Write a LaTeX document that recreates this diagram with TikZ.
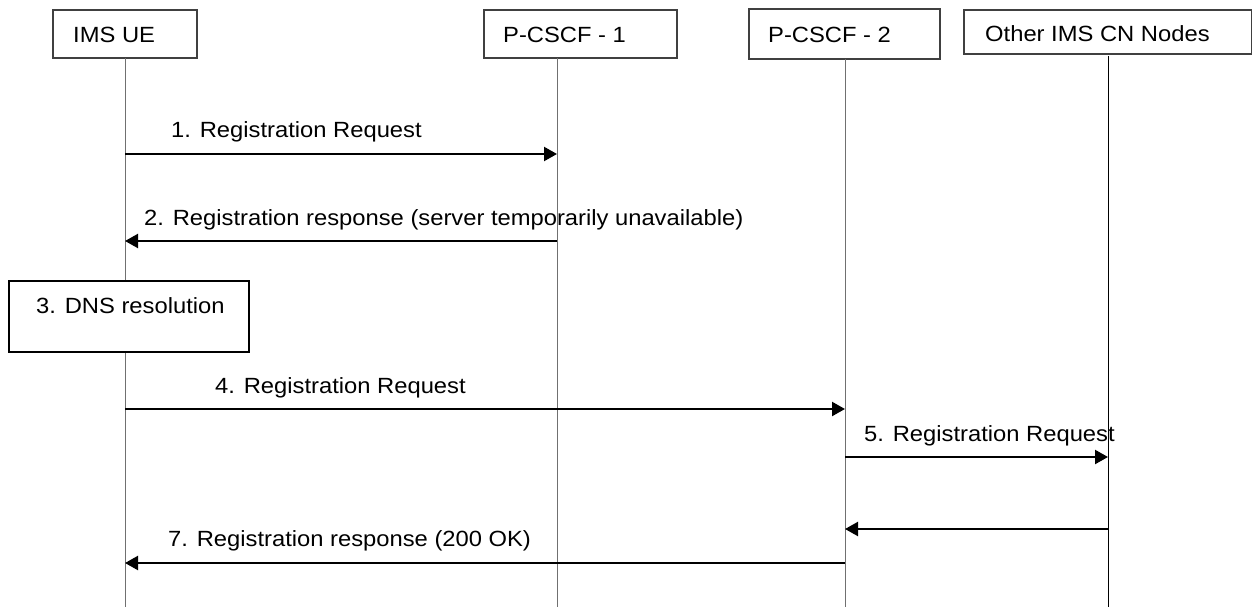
\documentclass[tikz,border=0pt]{standalone}
\usepackage{fontspec}
\setmainfont{Liberation Sans}
\usetikzlibrary{arrows.meta,calc}
\definecolor{boxgray}{HTML}{404040}
\definecolor{linegray}{HTML}{707070}
% slightly widened lettering
\newcommand\wtxt[1]{\scalebox{1.08}[1]{#1}}
\tikzset{
  hbox/.style={draw=boxgray, line width=1.1pt, minimum height=48pt, inner sep=0pt},
  txt/.style={font=\fontsize{22}{26}\selectfont, inner sep=0pt, anchor=base west},
  life/.style={draw=linegray, line width=1pt},
  msg/.style={line width=2.2pt, -{Triangle[length=13pt,width=14pt]}},
}
\begin{document}
\begin{tikzpicture}[x=1pt,y=-1pt]
\useasboundingbox (0,0) rectangle (1252,607);

% entity headers
\node[hbox, minimum width=144pt] (ue) at (125,34) {};
\node[hbox, minimum width=193pt] (p1) at (580.5,34) {};
\node[hbox, minimum width=191pt, minimum height=50pt] (p2) at (844.5,34) {};
\node[hbox, minimum width=288pt, minimum height=44pt] (cn) at (1108,32) {};
\node[txt] (uet) at (73,43) {\wtxt{IMS UE}};
\node[txt] (p1t) at (503,43) {\wtxt{P-CSCF - 1}};
\node[txt] (p2t) at (768,43) {\wtxt{P-CSCF - 2}};
\node[txt] (cnt) at (985,42) {\wtxt{Other IMS CN Nodes}};

% lifeline ends
\coordinate (ueT) at (125,58);
\coordinate (p1T) at (557,58);
\coordinate (p2T) at (845,59);
\coordinate (cnT) at (1108,56);
\coordinate (ueB) at (125,607);
\coordinate (p1B) at (557,607);
\coordinate (p2B) at (845,607);
\coordinate (cnB) at (1108,607);

\draw[life] (ueT) -- (ueB);
\draw[life] (p1T) -- (p1B);
\draw[life] (p2T) -- (p2B);
\draw[line width=1pt] (cnT) -- (cnB);

% local procedure on the UE
\node[draw, line width=1.5pt, fill=white, minimum width=240pt, minimum height=71pt, inner sep=0pt] (dns) at (129,316.5) {};
\node[txt] (dnst) at (36,313) {\wtxt{3. DNS resolution}};

% messages
\draw[msg] (ueT |- 0,154) -- (p1T |- 0,154);
\node[txt] (m1) at (171,137) {\wtxt{1. Registration Request}};

\draw[msg] (p1T |- 0,241) -- (ueT |- 0,241);
\node[txt] (m2) at (144,225) {\wtxt{2. Registration response (server temporarily unavailable)}};

\draw[msg] (ueT |- 0,409) -- (p2T |- 0,409);
\node[txt] (m4) at (215,393) {\wtxt{4. Registration Request}};

\draw[msg] (p2T |- 0,457) -- (cnT |- 0,457);
\node[txt] (m5) at (864,441) {\wtxt{5. Registration Request}};

\draw[msg] (cnT |- 0,529) -- (p2T |- 0,529);

\draw[msg] (p2T |- 0,563) -- (ueT |- 0,563);
\node[txt] (m7) at (168,546) {\wtxt{7. Registration response (200 OK)}};
\end{tikzpicture}
\end{document}
